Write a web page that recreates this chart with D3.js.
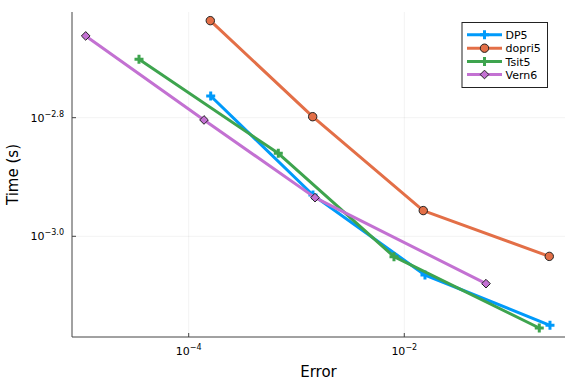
<!DOCTYPE html>
<html>
<head>
<meta charset="utf-8">
<script src="https://cdn.jsdelivr.net/npm/d3@7"></script>
<style>
  html, body { margin: 0; padding: 0; background: #fff; }
  svg { display: block; font-family: "DejaVu Sans", sans-serif; }
</style>
</head>
<body>
<svg id="chart" width="576" height="384"></svg>
<script>
// ---- data ----
const seriesNames = ["DP5", "dopri5", "Tsit5", "Vern6"];
const dp5Error = [1.600e-4, 1.422e-3, 1.556e-2, 2.247e-1];
const dp5Time = [1.724e-3, 1.174e-3, 8.605e-4, 7.079e-4];
const dopri5Error = [1.586e-4, 1.413e-3, 1.500e-2, 2.213e-1];
const dopri5Time = [2.310e-3, 1.591e-3, 1.105e-3, 9.25e-4];
const tsit5Error = [3.459e-5, 6.78e-4, 8.027e-3, 1.788e-1];
const tsit5Time = [1.988e-3, 1.380e-3, 9.24e-4, 7.005e-4];
const vern6Error = [1.108e-5, 1.387e-4, 1.485e-3, 5.73e-2];
const vern6Time = [2.177e-3, 1.571e-3, 1.162e-3, 8.32e-4];
const xTickValues = [1e-4, 1e-2];
const xTickExps = ["−4", "−2"];
const yTickValues = [Math.pow(10, -2.8), Math.pow(10, -3.0)];
const yTickExps = ["−2.8", "−3.0"];

const colors = ["#009AFA", "#E36F47", "#3EA44E", "#C371D2"];
const markers = ["cross", "circle", "cross", "diamond"];
const series = [
  {name: seriesNames[0], x: dp5Error, y: dp5Time},
  {name: seriesNames[1], x: dopri5Error, y: dopri5Time},
  {name: seriesNames[2], x: tsit5Error, y: tsit5Time},
  {name: seriesNames[3], x: vern6Error, y: vern6Time}
];

// ---- layout ----
const svg = d3.select("#chart");
const L = 72, R = 565, T = 12, B = 337;
const x = d3.scaleLog().domain([Math.pow(10, -5.0826), Math.pow(10, -0.509)]).range([L, R]);
const y = d3.scaleLog().domain([Math.pow(10, -3.1698), Math.pow(10, -2.6218)]).range([B, T]);

// grid
const grid = svg.append("g");
xTickValues.forEach(v => {
  grid.append("line").attr("x1", x(v)).attr("x2", x(v)).attr("y1", T).attr("y2", B)
    .attr("stroke", "#000").attr("stroke-opacity", 0.1).attr("stroke-width", 0.5);
});
yTickValues.forEach(v => {
  grid.append("line").attr("x1", L).attr("x2", R).attr("y1", y(v)).attr("y2", y(v))
    .attr("stroke", "#000").attr("stroke-opacity", 0.1).attr("stroke-width", 0.5);
});

// axes (spines with inward ticks)
const ax = svg.append("g");
ax.append("line").attr("x1", L).attr("x2", L).attr("y1", T).attr("y2", B).attr("stroke", "#444").attr("stroke-width", 1);
ax.append("line").attr("x1", L).attr("x2", R).attr("y1", B).attr("y2", B).attr("stroke", "#444").attr("stroke-width", 1);
xTickValues.forEach((v, i) => {
  ax.append("line").attr("x1", x(v)).attr("x2", x(v)).attr("y1", B).attr("y2", B - 4).attr("stroke", "#444");
  const t = ax.append("text").attr("x", x(v)).attr("y", 355).attr("text-anchor", "middle")
    .attr("font-size", 11).attr("fill", "#000");
  t.append("tspan").text("10");
  t.append("tspan").attr("dy", -5).attr("font-size", 8).text(xTickExps[i]);
});
yTickValues.forEach((v, i) => {
  ax.append("line").attr("x1", L).attr("x2", L + 4).attr("y1", y(v)).attr("y2", y(v)).attr("stroke", "#444");
  const t = ax.append("text").attr("x", 64).attr("y", y(v) + 4).attr("text-anchor", "end")
    .attr("font-size", 11).attr("fill", "#000");
  t.append("tspan").text("10");
  t.append("tspan").attr("dy", -5).attr("font-size", 8).text(yTickExps[i]);
});

// axis labels
svg.append("text").attr("x", (L + R) / 2).attr("y", 377).attr("text-anchor", "middle")
  .attr("font-size", 15).text("Error");
svg.append("text").attr("transform", `translate(18,${(T + B) / 2}) rotate(-90)`).attr("text-anchor", "middle")
  .attr("font-size", 15).text("Time (s)");

// markers
function drawMarker(g, type, cx, cy, color) {
  if (type === "circle") {
    g.append("circle").attr("cx", cx).attr("cy", cy).attr("r", 4.2)
      .attr("fill", color).attr("stroke", "#222").attr("stroke-width", 1);
  } else if (type === "diamond") {
    g.append("path").attr("d", d3.symbol().type(d3.symbolDiamond2 || d3.symbolDiamond).size(48)())
      .attr("transform", `translate(${cx},${cy}) rotate(0)`)
      .attr("fill", color).attr("stroke", "#222").attr("stroke-width", 1);
  } else {
    g.append("path").attr("d", d3.symbol().type(d3.symbolCross).size(45)())
      .attr("transform", `translate(${cx},${cy})`)
      .attr("fill", color);
  }
}

// series
const line = d3.line().x(d => x(d[0])).y(d => y(d[1]));
series.forEach((s, i) => {
  const pts = s.x.map((v, k) => [v, s.y[k]]);
  const g = svg.append("g");
  g.append("path").datum(pts).attr("d", line).attr("fill", "none")
    .attr("stroke", colors[i]).attr("stroke-width", 3).attr("stroke-linejoin", "round");
  pts.forEach(p => drawMarker(g, markers[i], x(p[0]), y(p[1]), colors[i]));
});

// legend
const lg = svg.append("g");
lg.append("rect").attr("x", 462).attr("y", 22.5).attr("width", 85.5).attr("height", 65)
  .attr("fill", "#fff").attr("stroke", "#222").attr("stroke-width", 1);
const legY = [34.7, 48.2, 61.5, 74.5];
series.forEach((s, i) => {
  lg.append("line").attr("x1", 467).attr("x2", 502).attr("y1", legY[i]).attr("y2", legY[i])
    .attr("stroke", colors[i]).attr("stroke-width", 3);
  drawMarker(lg, markers[i], 484.5, legY[i], colors[i]);
  lg.append("text").attr("x", 505.5).attr("y", legY[i] + 4).attr("font-size", 11).text(s.name);
});
</script>
</body>
</html>
